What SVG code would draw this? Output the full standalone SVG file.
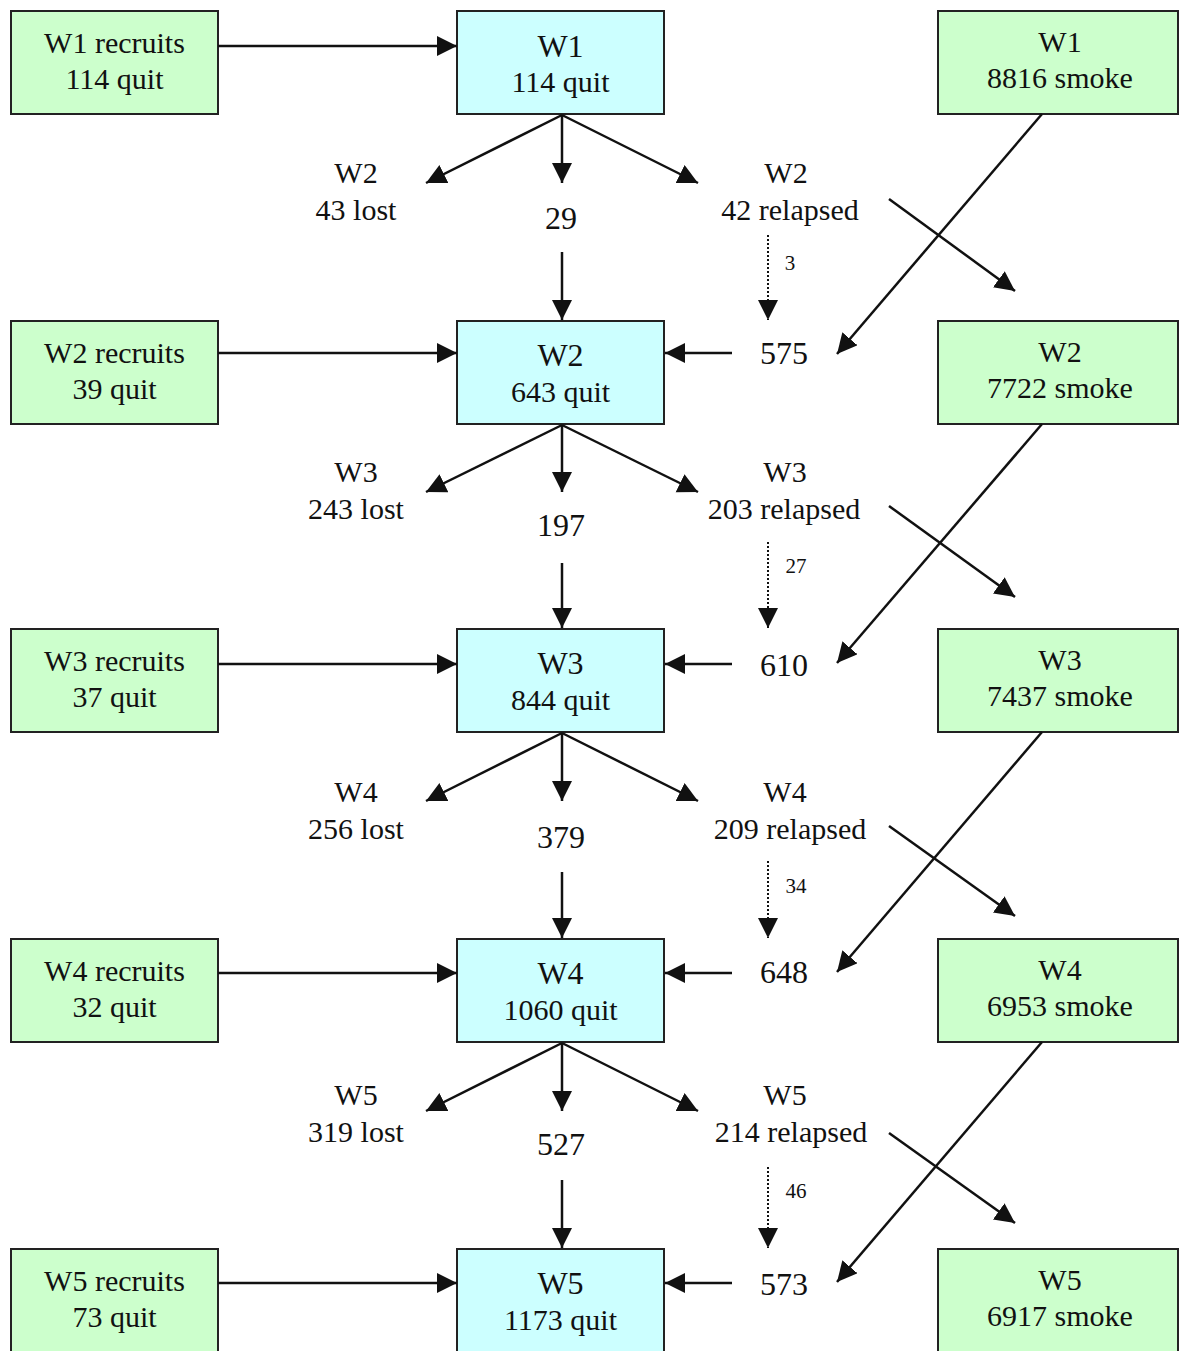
<svg xmlns="http://www.w3.org/2000/svg" width="1179" height="1351" viewBox="0 0 1179 1351">
<style>
text{font-family:'Liberation Serif','DejaVu Serif','Times New Roman',serif;fill:#111;text-anchor:middle;font-size:30px}
.sm{font-size:21px}
.big{font-size:32px}
.g{fill:#ccffcc;stroke:#222;stroke-width:2}
.c{fill:#ccffff;stroke:#222;stroke-width:2}
.ln{stroke:#111;stroke-width:2.5;fill:none;marker-end:url(#ah)}
.dt{stroke:#111;stroke-width:2;fill:none;stroke-dasharray:2,2;marker-end:url(#ah)}
</style>
<defs>
<marker id="ah" markerUnits="userSpaceOnUse" markerWidth="22" markerHeight="22" refX="20" refY="10" orient="auto">
<path d="M0,0 L20,10 L0,20 z" fill="#111"/>
</marker>
</defs>
<rect width="1179" height="1351" fill="#fff"/>
<g font-family="Liberation Serif, DejaVu Serif, serif">
<g id="recruits1"><rect class="g" x="11" y="11" width="207" height="103"/><text x="114.5" y="53">W1 recruits</text><text x="114.5" y="89">114 quit</text></g>
<g id="recruits2"><rect class="g" x="11" y="321" width="207" height="103"/><text x="114.5" y="363">W2 recruits</text><text x="114.5" y="399">39 quit</text></g>
<g id="recruits3"><rect class="g" x="11" y="629" width="207" height="103"/><text x="114.5" y="671">W3 recruits</text><text x="114.5" y="707">37 quit</text></g>
<g id="recruits4"><rect class="g" x="11" y="939" width="207" height="103"/><text x="114.5" y="981">W4 recruits</text><text x="114.5" y="1017">32 quit</text></g>
<g id="recruits5"><rect class="g" x="11" y="1249" width="207" height="110"/><text x="114.5" y="1291">W5 recruits</text><text x="114.5" y="1327">73 quit</text></g>

<g id="quit1"><rect class="c" x="457" y="11" width="207" height="103"/><text class="big" x="560.5" y="57">W1</text><text x="560.5" y="92">114 quit</text></g>
<g id="quit2"><rect class="c" x="457" y="321" width="207" height="103"/><text class="big" x="560.5" y="366">W2</text><text x="560.5" y="402">643 quit</text></g>
<g id="quit3"><rect class="c" x="457" y="629" width="207" height="103"/><text class="big" x="560.5" y="674">W3</text><text x="560.5" y="710">844 quit</text></g>
<g id="quit4"><rect class="c" x="457" y="939" width="207" height="103"/><text class="big" x="560.5" y="984">W4</text><text x="560.5" y="1020">1060 quit</text></g>
<g id="quit5"><rect class="c" x="457" y="1249" width="207" height="110"/><text class="big" x="560.5" y="1294">W5</text><text x="560.5" y="1330">1173 quit</text></g>

<g id="smoke1"><rect class="g" x="938" y="11" width="240" height="103"/><text x="1060" y="52">W1</text><text x="1060" y="88">8816 smoke</text></g>
<g id="smoke2"><rect class="g" x="938" y="321" width="240" height="103"/><text x="1060" y="362">W2</text><text x="1060" y="398">7722 smoke</text></g>
<g id="smoke3"><rect class="g" x="938" y="629" width="240" height="103"/><text x="1060" y="670">W3</text><text x="1060" y="706">7437 smoke</text></g>
<g id="smoke4"><rect class="g" x="938" y="939" width="240" height="103"/><text x="1060" y="980">W4</text><text x="1060" y="1016">6953 smoke</text></g>
<g id="smoke5"><rect class="g" x="938" y="1249" width="240" height="110"/><text x="1060" y="1290">W5</text><text x="1060" y="1326">6917 smoke</text></g>

<g id="lost2"><text x="356" y="183">W2</text><text x="356" y="220">43 lost</text></g>
<g id="lost3"><text x="356" y="482">W3</text><text x="356" y="519">243 lost</text></g>
<g id="lost4"><text x="356" y="802">W4</text><text x="356" y="839">256 lost</text></g>
<g id="lost5"><text x="356" y="1105">W5</text><text x="356" y="1142">319 lost</text></g>

<g id="stay2"><text class="big" x="561" y="229">29</text></g>
<g id="stay3"><text class="big" x="561" y="536">197</text></g>
<g id="stay4"><text class="big" x="561" y="848">379</text></g>
<g id="stay5"><text class="big" x="561" y="1155">527</text></g>

<g id="relapsed2"><text x="786" y="183">W2</text><text x="790" y="220">42 relapsed</text></g>
<g id="relapsed3"><text x="785" y="482">W3</text><text x="784" y="519">203 relapsed</text></g>
<g id="relapsed4"><text x="785" y="802">W4</text><text x="790" y="839">209 relapsed</text></g>
<g id="relapsed5"><text x="785" y="1105">W5</text><text x="791" y="1142">214 relapsed</text></g>

<g id="newquit2"><text class="big" x="784" y="364">575</text></g>
<g id="newquit3"><text class="big" x="784" y="676">610</text></g>
<g id="newquit4"><text class="big" x="784" y="983">648</text></g>
<g id="newquit5"><text class="big" x="784" y="1295">573</text></g>

<g id="connectors">
<line class="ln" x1="218" y1="46" x2="457" y2="46"/>
<line class="ln" x1="218" y1="353" x2="457" y2="353"/>
<line class="ln" x1="218" y1="664" x2="457" y2="664"/>
<line class="ln" x1="218" y1="973" x2="457" y2="973"/>
<line class="ln" x1="218" y1="1283" x2="457" y2="1283"/>

<line class="ln" x1="732" y1="353" x2="665" y2="353"/>
<line class="ln" x1="732" y1="664" x2="665" y2="664"/>
<line class="ln" x1="732" y1="973" x2="665" y2="973"/>
<line class="ln" x1="732" y1="1283" x2="665" y2="1283"/>

<line class="ln" x1="562" y1="115" x2="426" y2="183"/>
<line class="ln" x1="562" y1="115" x2="562" y2="183"/>
<line class="ln" x1="562" y1="115" x2="698" y2="183"/>
<line class="ln" x1="562" y1="425" x2="426" y2="492"/>
<line class="ln" x1="562" y1="425" x2="562" y2="492"/>
<line class="ln" x1="562" y1="425" x2="698" y2="492"/>
<line class="ln" x1="562" y1="733" x2="426" y2="801"/>
<line class="ln" x1="562" y1="733" x2="562" y2="801"/>
<line class="ln" x1="562" y1="733" x2="698" y2="801"/>
<line class="ln" x1="562" y1="1043" x2="426" y2="1111"/>
<line class="ln" x1="562" y1="1043" x2="562" y2="1111"/>
<line class="ln" x1="562" y1="1043" x2="698" y2="1111"/>

<line class="ln" x1="562" y1="252" x2="562" y2="320"/>
<line class="ln" x1="562" y1="563" x2="562" y2="628"/>
<line class="ln" x1="562" y1="872" x2="562" y2="938"/>
<line class="ln" x1="562" y1="1180" x2="562" y2="1248"/>

<line class="dt" x1="768" y1="235" x2="768" y2="320"/>
<line class="dt" x1="768" y1="542" x2="768" y2="628"/>
<line class="dt" x1="768" y1="861" x2="768" y2="938"/>
<line class="dt" x1="768" y1="1167" x2="768" y2="1248"/>
<text class="sm" x="790" y="270">3</text>
<text class="sm" x="796" y="573">27</text>
<text class="sm" x="796" y="893">34</text>
<text class="sm" x="796" y="1198">46</text>

<line class="ln" x1="1042" y1="114" x2="837" y2="354"/>
<line class="ln" x1="1042" y1="424" x2="837" y2="663"/>
<line class="ln" x1="1042" y1="732" x2="837" y2="972"/>
<line class="ln" x1="1042" y1="1042" x2="837" y2="1282"/>

<line class="ln" x1="889" y1="199" x2="1015" y2="291"/>
<line class="ln" x1="889" y1="506" x2="1015" y2="597"/>
<line class="ln" x1="889" y1="826" x2="1015" y2="916"/>
<line class="ln" x1="889" y1="1133" x2="1015" y2="1223"/>
</g>
</g>
</svg>
